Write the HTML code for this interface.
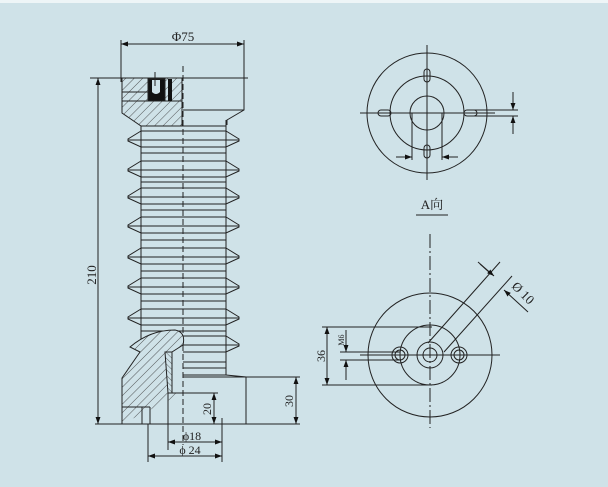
<!DOCTYPE html>
<html><head><meta charset="utf-8"><style>
html,body{margin:0;padding:0;background:#cfe2e8;}
svg{display:block}
text{font-family:"Liberation Serif","Noto Serif CJK SC",serif;fill:#222}
</style></head><body>
<svg width="608" height="487" viewBox="0 0 608 487" xmlns="http://www.w3.org/2000/svg">
<defs>
<pattern id="h" patternUnits="userSpaceOnUse" width="6" height="6" patternTransform="rotate(45)">
<rect width="6" height="6" fill="#cfe2e8"/><line x1="0" y1="0" x2="0" y2="6" stroke="#333" stroke-width="0.8"/></pattern>
<pattern id="h2" patternUnits="userSpaceOnUse" width="4" height="4" patternTransform="rotate(-45)">
<rect width="4" height="4" fill="#cfe2e8"/><line x1="0" y1="0" x2="0" y2="4" stroke="#333" stroke-width="0.7"/></pattern>
<marker id="a" viewBox="0 0 10 10" refX="10" refY="5" markerWidth="7" markerHeight="7" orient="auto-start-reverse"><path d="M0,1.5 L10,5 L0,8.5z" fill="#111"/></marker>
</defs>
<rect x="0" y="0" width="608" height="3" fill="#eef5f7"/>
<g stroke="#222" stroke-width="1" fill="none">
<!-- left view -->
<line x1="183" y1="66" x2="183" y2="445" stroke-dasharray="6,3"/>
<line x1="121" y1="40" x2="121" y2="82"/><line x1="244" y1="40" x2="244" y2="110"/>
<line x1="121" y1="44" x2="244" y2="44" marker-start="url(#a)" marker-end="url(#a)"/>
<line x1="90" y1="78" x2="248" y2="78"/>
<line x1="98" y1="78" x2="98" y2="424" marker-start="url(#a)" marker-end="url(#a)"/>
<!-- head body right -->
<path d="M183,78 H244 V110 L227,120 V125"/>
<line x1="183" y1="110" x2="244" y2="110"/>
<!-- hatched head -->
<path d="M122,78 H182 V126 H141 L122,113 Z" fill="url(#h)"/>
<line x1="122" y1="92" x2="150" y2="92"/><line x1="122" y1="101" x2="182" y2="101"/>
<path d="M148,79 H165 V101 H148 Z" fill="#111"/>
<path d="M152,80 V92 Q156,96 160,92 V80 Z" fill="#cfe2e8" stroke="none"/>
<rect x="168" y="79" width="4" height="22" fill="#111" stroke="none"/>
<line x1="155" y1="72" x2="155" y2="86"/>
<!-- core -->
<line x1="141" y1="126" x2="141" y2="340"/><line x1="226" y1="120" x2="226" y2="375"/>
<line x1="141" y1="126" x2="226" y2="126"/>
</g>
<g stroke="#222" stroke-width="1" fill="#cfe2e8" id="sheds">
<path d="M141,131 L128,139 L128,141 L141,147 Z M226,131 L239,139 L239,141 L226,147 Z"/>
<path d="M141,161 L128,169 L128,171 L141,177 Z M226,161 L239,169 L239,171 L226,177 Z"/>
<path d="M141,188 L128,196 L128,198 L141,204 Z M226,188 L239,196 L239,198 L226,204 Z"/>
<path d="M141,217 L128,225 L128,227 L141,233 Z M226,217 L239,225 L239,227 L226,233 Z"/>
<path d="M141,248 L128,256 L128,258 L141,264 Z M226,248 L239,256 L239,258 L226,264 Z"/>
<path d="M141,278 L128,286 L128,288 L141,294 Z M226,278 L239,286 L239,288 L226,294 Z"/>
<path d="M141,309 L128,317 L128,319 L141,325 Z M226,309 L239,317 L239,319 L226,325 Z"/>
<path d="M226,336 L239,344 L239,346 L226,352 Z"/>
</g>
<g stroke="#222" stroke-width="0.9">
<line x1="141" y1="131" x2="226" y2="131"/><line x1="128" y1="140" x2="239" y2="140"/><line x1="141" y1="147" x2="226" y2="147"/><line x1="141" y1="153" x2="226" y2="153"/>
<line x1="141" y1="161" x2="226" y2="161"/><line x1="128" y1="170" x2="239" y2="170"/><line x1="141" y1="177" x2="226" y2="177"/><line x1="141" y1="182" x2="226" y2="182"/>
<line x1="141" y1="188" x2="226" y2="188"/><line x1="128" y1="197" x2="239" y2="197"/><line x1="141" y1="204" x2="226" y2="204"/><line x1="141" y1="210" x2="226" y2="210"/>
<line x1="141" y1="217" x2="226" y2="217"/><line x1="128" y1="226" x2="239" y2="226"/><line x1="141" y1="233" x2="226" y2="233"/><line x1="141" y1="240" x2="226" y2="240"/>
<line x1="141" y1="248" x2="226" y2="248"/><line x1="128" y1="257" x2="239" y2="257"/><line x1="141" y1="264" x2="226" y2="264"/><line x1="141" y1="271" x2="226" y2="271"/>
<line x1="141" y1="278" x2="226" y2="278"/><line x1="128" y1="287" x2="239" y2="287"/><line x1="141" y1="294" x2="226" y2="294"/><line x1="141" y1="301" x2="226" y2="301"/>
<line x1="141" y1="309" x2="226" y2="309"/><line x1="128" y1="318" x2="239" y2="318"/><line x1="141" y1="325" x2="226" y2="325"/><line x1="141" y1="331" x2="226" y2="331"/>
<line x1="183" y1="336" x2="226" y2="336"/><line x1="183" y1="345" x2="239" y2="345"/><line x1="183" y1="352" x2="226" y2="352"/><line x1="183" y1="362" x2="226" y2="362"/><line x1="183" y1="368" x2="226" y2="368"/>
</g>
<g stroke="#222" stroke-width="1" fill="none">
<!-- base -->
<path d="M183,375 H226 L246,377 V424"/>
<line x1="183" y1="377" x2="246" y2="377"/>
<path d="M122,424 V378 L140,352 L130,347 Q150,330 175,330 Q186,332 183,345 L172,352 V393 H183" fill="url(#h)"/>
<path d="M165,352 H172 V393 H168 Z" fill="url(#h2)"/>
<line x1="122" y1="407" x2="150" y2="407"/><line x1="142" y1="407" x2="142" y2="424"/><line x1="150" y1="407" x2="150" y2="424"/>
<line x1="168" y1="393" x2="168" y2="450"/>
<line x1="168" y1="393" x2="218" y2="393"/>
<line x1="95" y1="424" x2="300" y2="424"/>
<line x1="246" y1="377" x2="300" y2="377"/>
<line x1="296" y1="377" x2="296" y2="424" marker-start="url(#a)" marker-end="url(#a)"/>
<line x1="214" y1="393" x2="214" y2="424" marker-start="url(#a)" marker-end="url(#a)"/>
<line x1="148" y1="424" x2="148" y2="462"/><line x1="222" y1="418" x2="222" y2="462"/>
<line x1="168" y1="442" x2="222" y2="442" marker-start="url(#a)" marker-end="url(#a)"/>
<line x1="148" y1="456" x2="222" y2="456" marker-start="url(#a)" marker-end="url(#a)"/>
<!-- top view -->
<circle cx="427" cy="113" r="60"/><circle cx="427" cy="113" r="37"/><circle cx="427" cy="113" r="17"/>
<line x1="360" y1="113" x2="495" y2="113"/><line x1="427" y1="45" x2="427" y2="180"/>
<rect x="424" y="69" width="6" height="13" rx="3"/><rect x="424" y="145" width="6" height="13" rx="3"/>
<rect x="378" y="110" width="13" height="6" rx="3"/><rect x="464" y="110" width="13" height="6" rx="3"/>
<line x1="412" y1="113" x2="412" y2="160"/><line x1="442" y1="113" x2="442" y2="160"/>
<line x1="396" y1="157" x2="412" y2="157" marker-end="url(#a)"/><line x1="458" y1="157" x2="442" y2="157" marker-end="url(#a)"/>
<line x1="470" y1="110" x2="518" y2="110"/><line x1="470" y1="116" x2="518" y2="116"/>
<line x1="513" y1="92" x2="513" y2="110" marker-end="url(#a)"/><line x1="513" y1="134" x2="513" y2="116" marker-end="url(#a)"/>
<line x1="416" y1="215" x2="448" y2="215"/>
<!-- bottom view -->
<circle cx="430" cy="355" r="62"/><circle cx="430" cy="355" r="30"/>
<circle cx="430" cy="355" r="13"/><circle cx="430" cy="355" r="7"/>
<circle cx="400" cy="355" r="8"/><circle cx="400" cy="355" r="5"/>
<circle cx="459" cy="355" r="8"/><circle cx="459" cy="355" r="5"/>
<line x1="430" y1="234" x2="430" y2="428" stroke-dasharray="14,3,2,3"/>
<line x1="360" y1="355" x2="500" y2="355"/>
<line x1="322" y1="327" x2="432" y2="327"/><line x1="322" y1="385" x2="432" y2="385"/>
<line x1="327" y1="327" x2="327" y2="385" marker-start="url(#a)" marker-end="url(#a)"/>
<line x1="340" y1="352" x2="400" y2="352"/><line x1="340" y1="360" x2="400" y2="360"/>
<line x1="346" y1="330" x2="346" y2="352" marker-end="url(#a)"/><line x1="346" y1="380" x2="346" y2="360" marker-end="url(#a)"/>
<line x1="428" y1="343" x2="500" y2="262"/><line x1="444" y1="352" x2="512" y2="276"/>
<line x1="480" y1="264" x2="490" y2="273"/>
<line x1="478" y1="262" x2="494" y2="276" marker-end="url(#a)"/>
<line x1="528" y1="312" x2="504" y2="290" marker-end="url(#a)"/>
</g>
<text x="183" y="41" font-size="13" text-anchor="middle">Φ75</text>
<text x="0" y="0" font-size="13" text-anchor="middle" transform="translate(96,275) rotate(-90)">210</text>
<text x="0" y="0" font-size="12" text-anchor="middle" transform="translate(293,401) rotate(-90)">30</text>
<text x="0" y="0" font-size="12" text-anchor="middle" transform="translate(211,409) rotate(-90)">20</text>
<text x="192" y="440" font-size="12" text-anchor="middle">ϕ18</text>
<text x="190" y="454" font-size="12" text-anchor="middle">ϕ 24</text>
<text x="432" y="209" font-size="13" text-anchor="middle">A向</text>
<text x="0" y="0" font-size="12" text-anchor="middle" transform="translate(325,356) rotate(-90)">36</text>
<text x="0" y="0" font-size="8" text-anchor="middle" transform="translate(344,340) rotate(-90)">M6</text>
<text x="0" y="0" font-size="13" text-anchor="middle" transform="translate(520,296) rotate(45)">Ø 10</text>
</svg>
</body></html>
